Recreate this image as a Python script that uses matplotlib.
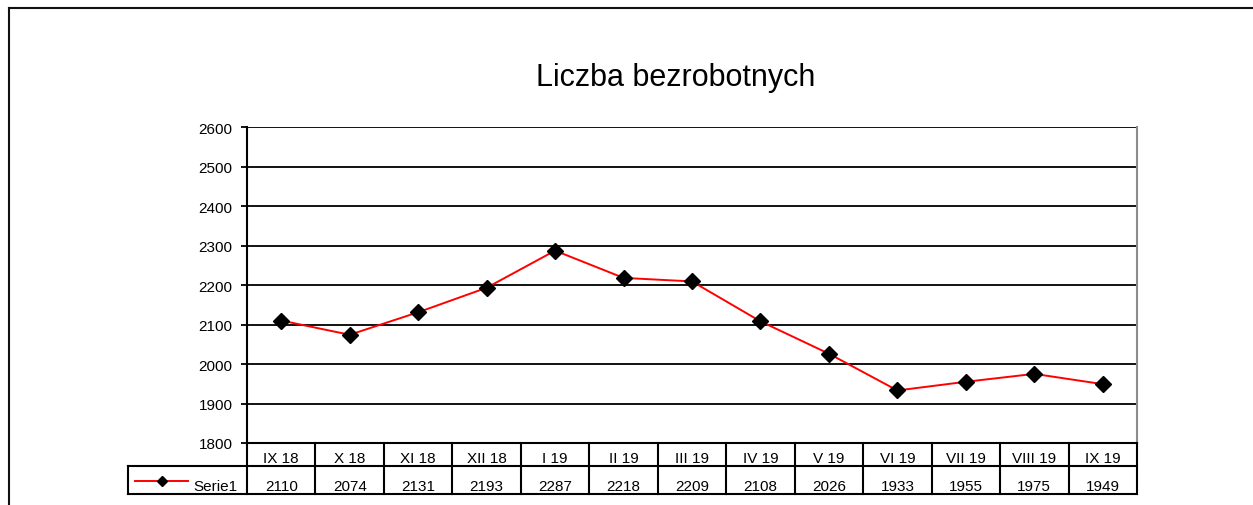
import matplotlib
matplotlib.use("Agg")
import matplotlib.pyplot as plt
from matplotlib.lines import Line2D
from matplotlib.transforms import blended_transform_factory

plt.rcParams['font.family'] = ['Liberation Sans', 'DejaVu Sans']

title = "Liczba bezrobotnych"
series_name = "Serie1"
categories = ["IX 18", "X 18", "XI 18", "XII 18", "I 19", "II 19", "III 19",
              "IV 19", "V 19", "VI 19", "VII 19", "VIII 19", "IX 19"]
values = [2110, 2074, 2131, 2193, 2287, 2218, 2209, 2108, 2026, 1933, 1955, 1975, 1949]
y_ticks = [1800, 1900, 2000, 2100, 2200, 2300, 2400, 2500, 2600]

W, H = 1253, 506
fig = plt.figure(figsize=(W / 100, H / 100), dpi=100)
fig.patch.set_facecolor('white')

# plot area in pixels
L, R, T, B = 247, 1137, 128, 444
ax = fig.add_axes([L / W, 1 - B / H, (R - L) / W, (B - T) / H])
ax.set_xlim(-0.5, len(categories) - 0.5)
ax.set_ylim(y_ticks[0], y_ticks[-1])
ax.set_yticks(y_ticks)
ax.set_xticks([])
ax.yaxis.grid(True, color='#111111', lw=1.4)
ax.set_axisbelow(True)
ax.spines['top'].set_visible(False)
ax.spines['left'].set_color('black')
ax.spines['left'].set_linewidth(1.5)
ax.spines['bottom'].set_color('black')
ax.spines['bottom'].set_linewidth(1.5)
ax.spines['right'].set_color('#8c8c8c')
ax.spines['right'].set_linewidth(1.5)
ax.tick_params(axis='y', direction='out', length=4.3, width=1.3,
               labelsize=11, pad=6, colors='black')

x = list(range(len(categories)))
ax.plot(x, values, color='#ff0000', lw=1.4, marker='D', markersize=8,
        markerfacecolor='black', markeredgecolor='black', zorder=5, clip_on=False)

# data table
trans = blended_transform_factory(ax.transData, ax.transAxes)
ph = B - T
colw = (R - L) / len(categories)
r1 = -(467 - B) / ph
r2 = -(495 - B) / ph
leg_left = -0.5 - (L - 128) / colw
lk = dict(color='black', lw=1.5, transform=trans, clip_on=False, solid_capstyle='projecting')
n = len(categories)
for k in range(1, n):
    ax.add_line(Line2D([-0.5 + k, -0.5 + k], [0, r2], **lk))
ax.add_line(Line2D([n - 0.5, n - 0.5], [0, r2], **lk))
ax.add_line(Line2D([-0.5, -0.5], [0, r2], **lk))
ax.add_line(Line2D([leg_left, n - 0.5], [r1, r1], **lk))
ax.add_line(Line2D([leg_left, n - 0.5], [r2, r2], **lk))
ax.add_line(Line2D([leg_left, leg_left], [r1, r2], **lk))

ycat = -(459 - B) / ph
yval = -(487 - B) / ph
for i, (c, v) in enumerate(zip(categories, values)):
    ax.text(i, ycat, c, transform=trans, ha='center', va='center', fontsize=11)
    ax.text(i, yval, str(v), transform=trans, ha='center', va='center', fontsize=11)

# legend key in table
ly = 1 - 482 / H
fig.add_artist(Line2D([135 / W, 188 / W], [ly, ly], transform=fig.transFigure,
                      color='#ff0000', lw=1.4))
fig.add_artist(Line2D([162 / W], [ly], transform=fig.transFigure, marker='D',
                      markersize=5.5, color='black', lw=0))
fig.text(193 / W, 1 - 487 / H, series_name, ha='left', va='center', fontsize=11)

# title
fig.text(676 / W, 1 - 86 / H, title, ha='center', va='baseline', fontsize=22)

# outer chart border
fig.add_artist(Line2D([9 / W, 9 / W], [1 - 9 / H, 0], transform=fig.transFigure,
                      color='#111111', lw=1.5))
fig.add_artist(Line2D([9 / W, 1], [1 - 9 / H, 1 - 9 / H], transform=fig.transFigure,
                      color='#111111', lw=1.5))

fig.savefig('out.png', dpi=100, facecolor='white')
